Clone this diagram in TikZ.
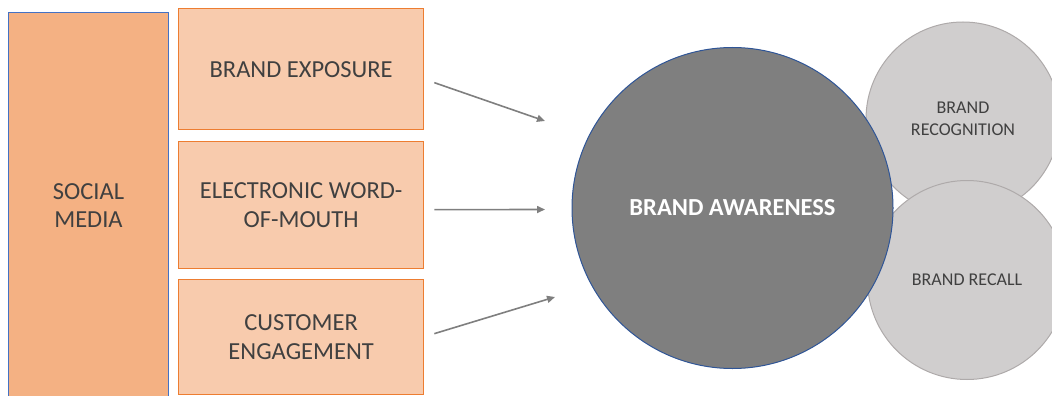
\documentclass[tikz,border=0pt]{standalone}
\usepackage{fontspec}
\setmainfont{Carlito}
\usetikzlibrary{arrows.meta,calc}
\definecolor{smfill}{HTML}{F4B183}
\definecolor{smline}{HTML}{4472C4}
\definecolor{boxfill}{HTML}{F8CBAD}
\definecolor{boxline}{HTML}{ED7D31}
\definecolor{txt}{HTML}{404040}
\definecolor{arrowgray}{HTML}{7F7F7F}
\definecolor{bigfill}{HTML}{7F7F7F}
\definecolor{bigline}{HTML}{2F5597}
\definecolor{smallfill}{HTML}{D0CECE}
\definecolor{smallline}{HTML}{AEAAAA}
\tikzset{
  mediabox/.style={draw=smline, line width=1pt, fill=smfill, anchor=north west,
    minimum width=160, inner sep=0pt, text=txt, align=center,
    font=\fontsize{24.5}{28.5}\selectfont},
  factorbox/.style={draw=boxline, line width=1.3pt, fill=boxfill, anchor=north west,
    minimum width=245, inner sep=0pt, text=txt, align=center,
    font=\fontsize{24.5}{28.5}\selectfont},
  bigcircle/.style={circle, draw=bigline, line width=1pt, fill=bigfill, inner sep=0pt,
    minimum size=321, text=white, font=\bfseries\fontsize{24.5}{28}\selectfont},
  smallcircle/.style={circle, draw=smallline, line width=1pt, fill=smallfill, inner sep=0pt,
    text=txt, align=center, font=\fontsize{18}{22.5}\selectfont},
  flow/.style={draw=arrowgray, line width=1.6pt, -{Triangle[length=8pt,width=7pt]}}
}
\begin{document}
\begin{tikzpicture}[x=1pt,y=-1pt]
\useasboundingbox (0,0) rectangle (1052,396);
\clip (0,0) rectangle (1052,396);

% source column
\node[mediabox, minimum height=386] (social) at (8,12) {SOCIAL\\MEDIA};

% three factors
\node[factorbox, minimum height=121] (exposure) at (178,8) {BRAND EXPOSURE};
\node[factorbox, minimum height=127] (ewom) at (178,141) {ELECTRONIC WORD-\\OF-MOUTH};
\node[factorbox, minimum height=115] (engage) at (178,279) {CUSTOMER\\ENGAGEMENT};

% outcome circles
\node[smallcircle, minimum size=194] (recog) at (963,119) {BRAND\\RECOGNITION};
\node[smallcircle, minimum size=199] (recall) at (967,280) {BRAND RECALL};
\node[bigcircle] (aware) at (732.5,208) {BRAND AWARENESS};

% arrow end points
\coordinate (s1) at ($(exposure.east)+(10,13.5)$);
\coordinate (e1) at ($(aware.center)+(-187.5,-87)$);
\coordinate (s2) at ($(ewom.east)+(10,4.5)$);
\coordinate (e2) at ($(aware.center)+(-187.5,1.5)$);
\coordinate (s3) at ($(engage.east)+(10,-3.5)$);
\coordinate (e3) at ($(aware.center)+(-177.5,89)$);

\draw[flow] (s1) -- (e1);
\draw[flow] (s2) -- (e2);
\draw[flow] (s3) -- (e3);
\end{tikzpicture}
\end{document}
